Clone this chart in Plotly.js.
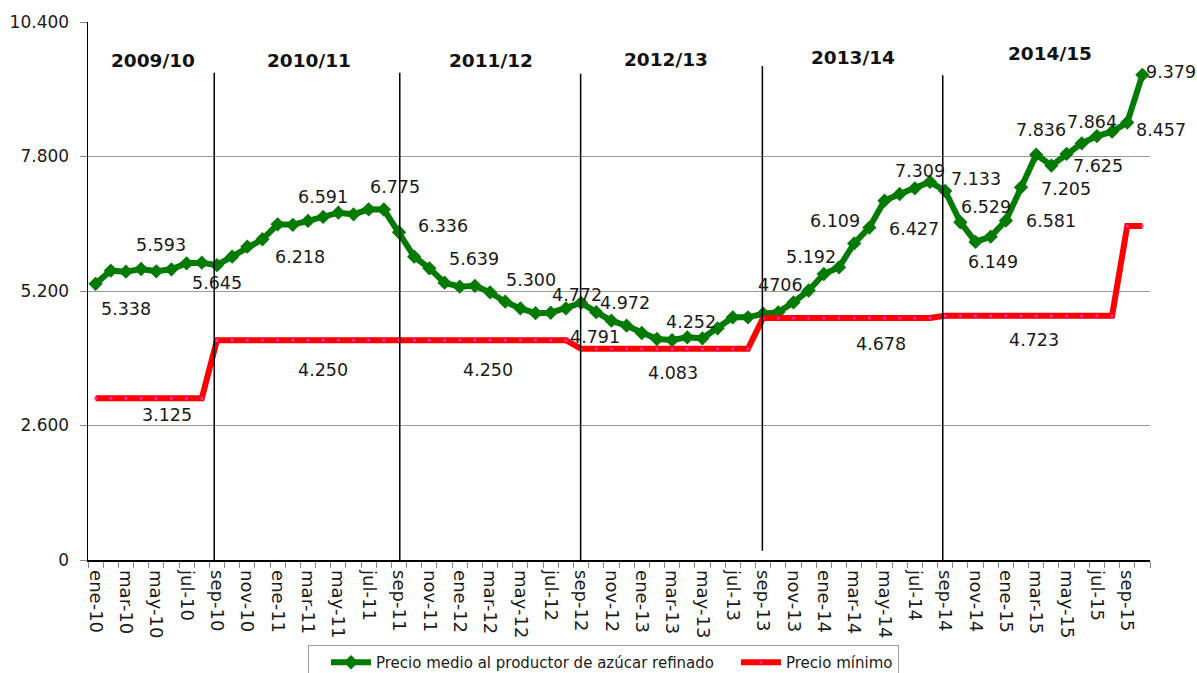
<!DOCTYPE html>
<html>
<head>
<meta charset="utf-8">
<script src="https://cdn.plot.ly/plotly-3.0.1.min.js"></script>
<style>
html,body{margin:0;padding:0;background:#fff;}
#chart{width:1197px;height:673px;}
</style>
</head>
<body>
<div id="chart"></div>
<script>
// ---- DATA ----
var categories = [
 'ene-10','feb-10','mar-10','abr-10','may-10','jun-10','jul-10','ago-10','sep-10','oct-10','nov-10','dic-10',
 'ene-11','feb-11','mar-11','abr-11','may-11','jun-11','jul-11','ago-11','sep-11','oct-11','nov-11','dic-11',
 'ene-12','feb-12','mar-12','abr-12','may-12','jun-12','jul-12','ago-12','sep-12','oct-12','nov-12','dic-12',
 'ene-13','feb-13','mar-13','abr-13','may-13','jun-13','jul-13','ago-13','sep-13','oct-13','nov-13','dic-13',
 'ene-14','feb-14','mar-14','abr-14','may-14','jun-14','jul-14','ago-14','sep-14','oct-14','nov-14','dic-14',
 'ene-15','feb-15','mar-15','abr-15','may-15','jun-15','jul-15','ago-15','sep-15','oct-15'
];

var precioMedio = [
 5338, 5593, 5573, 5625, 5580, 5619, 5735, 5747, 5700, 5863, 6056, 6200,
 6489, 6480, 6554, 6631, 6714, 6682, 6779, 6775, 6336, 5864, 5639, 5360,
 5283, 5300, 5174, 4993, 4864, 4772, 4780, 4864, 4972, 4791, 4626, 4529,
 4388, 4272, 4252, 4305, 4285, 4478, 4691, 4691, 4760, 4787, 4980, 5210,
 5529, 5658, 6120, 6427, 6946, 7075, 7185, 7309, 7133, 6529, 6149, 6250,
 6560, 7205, 7836, 7625, 7850, 8054, 8195, 8279, 8457, 9379
];

var precioMinimo = [
 3125, 3125, 3125, 3125, 3125, 3125, 3125, 3125, 4250, 4250, 4250, 4250,
 4250, 4250, 4250, 4250, 4250, 4250, 4250, 4250, 4250, 4250, 4250, 4250,
 4250, 4250, 4250, 4250, 4250, 4250, 4250, 4250, 4083, 4083, 4083, 4083,
 4083, 4083, 4083, 4083, 4083, 4083, 4083, 4083, 4678, 4678, 4678, 4678,
 4678, 4678, 4678, 4678, 4678, 4678, 4678, 4678, 4723, 4723, 4723, 4723,
 4723, 4723, 4723, 4723, 4723, 4723, 4723, 4723, 6455, 6455
];

var seasonNames = ['2009/10','2010/11','2011/12','2012/13','2013/14','2014/15'];
var seriesNames = ['Precio medio al productor de azúcar refinado','Precio mínimo'];
var yTicks = [0, 2600, 5200, 7800, 10400];

// value labels shown on the chart (text)
var labelTexts = ['5.338','5.593','5.645','6.218','6.591','6.775','6.336','5.639','5.300','4.772','4.972',
  '4.252','4.791','4706','5.192','6.109','6.427','7.309','7.133','6.529','6.149','6.581','7.836','7.205',
  '7.864','7.625','8.457','9.379','3.125','4.250','4.250','4.083','4.678','4.723'];

// ---- LAYOUT (positions) ----
var L = 88, R = 1150, T = 22, B = 560;
var W = R - L, H = B - T;
function px(x){ return (x - L) / W; }
function py(y){ return (B - y) / H; }

var labelPos = [
 [126,309],[161,245],[216.7,283],[299.5,256.7],[322.8,197.3],[394.7,187],[442.8,226],[473.8,258.7],
 [530.5,280],[577,295],[625.3,303.3],[691.3,321.7],[595.2,337.3],[780,285],[810.8,256.7],[834.7,220.7],
 [913.8,229.3],[919.5,170.7],[975.5,179.3],[985.5,207.3],[992.8,261.7],[1050.5,220.7],[1041.3,130],
 [1065.5,189],[1091.7,122],[1098.3,165.7],[1160.5,130],[1171.3,71.7],[167.3,415],[322.8,370],
 [487.8,370],[673,372.7],[881.3,344],[1034.2,340]
];
var seasonPos = [[152.5,60],[308.7,60],[490.8,60],[665.8,59],[853.3,57],[1050,54]];
// separators: [x category position, top value, bottom value]
var sepLines = [[7.82,9420,0],[20.05,9420,0],[31.97,9400,0],[43.95,9549,180],[55.84,9369,0]];

var annotations = [];
labelTexts.forEach(function(t,i){
  annotations.push({xref:'paper',yref:'paper',x:px(labelPos[i][0]),y:py(labelPos[i][1]),
    text:t,showarrow:false,xanchor:'center',yanchor:'middle',
    font:{family:'DejaVu Sans',size:17.5,color:'#1a1a1a'}});
});
seasonNames.forEach(function(t,i){
  annotations.push({xref:'paper',yref:'paper',x:px(seasonPos[i][0]),y:py(seasonPos[i][1]),
    text:'<b>'+t+'</b>',showarrow:false,xanchor:'center',yanchor:'middle',
    font:{family:'DejaVu Sans',size:18.5,color:'#111'}});
});

var shapes = sepLines.map(function(s){
  return {type:'line',xref:'x',yref:'y',x0:s[0],x1:s[0],y0:s[2],y1:s[1],
          line:{color:'#000',width:1.5},layer:'above'};
});

var tickText = categories.map(function(c,i){ return i % 2 === 0 ? c : ''; });

var traces = [
 {x:categories,y:precioMedio,type:'scatter',mode:'lines+markers',name:seriesNames[0],
  line:{color:'#007a00',width:6},marker:{symbol:'diamond',size:11,color:'#007a00'},
  cliponaxis:false},
 {x:categories,y:precioMinimo,type:'scatter',mode:'lines+markers',name:seriesNames[1],
  line:{color:'#ff0000',width:6},marker:{symbol:'circle',size:3,color:'#ff33cc'},
  cliponaxis:false}
];

var layout = {
  width:1197,height:673,
  margin:{l:L,r:1197-R,t:T,b:673-B,pad:0,autoexpand:false},
  paper_bgcolor:'#fff',plot_bgcolor:'#fff',
  font:{family:'DejaVu Sans',size:17,color:'#1a1a1a'},
  separators:',.',
  showlegend:true,
  legend:{orientation:'h',x:px(308),xanchor:'left',y:py(645),yanchor:'top',
    bordercolor:'#a0a0a0',borderwidth:1,font:{family:'DejaVu Sans',size:15,color:'#1a1a1a'},
    itemwidth:40,traceorder:'normal',indentation:17},
  xaxis:{type:'category',range:[-0.5,69.5],tickmode:'array',tickvals:categories,ticktext:tickText,
    tickson:'boundaries',ticks:'outside',ticklen:6,tickcolor:'#888',tickwidth:1,automargin:false,
    tickangle:90,ticklabelstandoff:5,showgrid:false,showline:true,linecolor:'#000',linewidth:1.5,
    tickfont:{family:'DejaVu Sans',size:18,color:'#1a1a1a'},zeroline:false,fixedrange:true},
  yaxis:{range:[0,10400],tickmode:'array',tickvals:yTicks,tickformat:',d',automargin:false,
    ticks:'outside',ticklen:7,tickcolor:'#888',showline:true,linecolor:'#000',linewidth:1.5,
    ticklabelstandoff:7,showgrid:true,gridcolor:'#9a9a9a',gridwidth:1,zeroline:false,
    tickfont:{family:'DejaVu Sans',size:17,color:'#1a1a1a'},fixedrange:true},
  annotations:annotations,
  shapes:shapes
};

Plotly.newPlot('chart',traces,layout,{displayModeBar:false,staticPlot:true});
</script>
</body>
</html>
